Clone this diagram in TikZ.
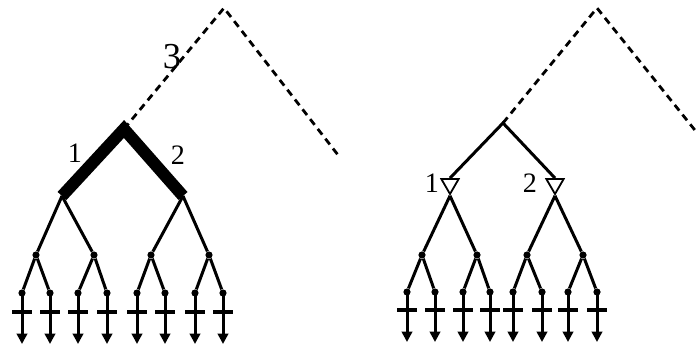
\documentclass[tikz,border=0pt]{standalone}
\usepackage{fontspec}
\setmainfont{Liberation Serif}
\usetikzlibrary{arrows.meta,shapes.geometric}
\tikzset{
  branch/.style={line width=0.75mm},
  mainbranch/.style={line width=3mm, line join=miter},
  outline/.style={line width=0.7mm, dash pattern=on 1.8mm off 1.3mm},
  dotnode/.style={circle, fill, inner sep=0pt, minimum size=1.8mm},
  stopbar/.style={fill, inner sep=0pt, minimum width=4.8mm, minimum height=1.2mm},
  valve/.style={draw, fill=white, line width=0.45mm, regular polygon, regular polygon sides=3, shape border rotate=180, inner sep=0pt, minimum size=5mm},
  leafarrow/.style={branch, -{Triangle[length=2.6mm,width=2.6mm]}},
  numlabel/.style={inner sep=0pt, font=\fontsize{20}{20}\selectfont},
  biglabel/.style={inner sep=0pt, font=\fontsize{26}{26}\selectfont},
}

\begin{document}
\begin{tikzpicture}[x=0.25mm, y=-0.25mm]
  \useasboundingbox (0,0) rectangle (696,352);

  % Left tree: dashed outer branch
  \coordinate (lroot) at (124,129);
  \coordinate (lapex) at (224,8);
  \coordinate (lend) at (338,155);
  \draw[outline] (lroot) -- (lapex) -- (lend);
  \node[biglabel] (lthree) at (172,57) {3};

  % Left tree: thick main branches
  \coordinate (lc1) at (62,196);
  \coordinate (lc2) at (183,196);
  \draw[mainbranch] (lc1) -- (lroot) -- (lc2);
  \node[numlabel] (lone) at (75,153) {1};
  \node[numlabel] (ltwo) at (178,155) {2};

  % Left tree: second level
  \foreach \x [count=\i, evaluate=\i as \p using {int((\i+1)/2)}] in {36,94,151,209} {
    \node[dotnode] (lm\i) at (\x,255) {};
    \draw[branch] (lc\p) -- (lm\i);
  }

  % Left tree: leaves with stop bars
  \foreach \x [count=\i, evaluate=\i as \p using {int((\i+1)/2)}] in {22,50,78,107,137,165,195,223} {
    \node[dotnode] (ll\i) at (\x,293) {};
    \coordinate (lt\i) at (\x,344);
    \draw[branch] (lm\p) -- (ll\i);
    \draw[leafarrow] (ll\i.center) -- (lt\i);
    \node[stopbar] (lb\i) at (\x,312) {};
  }

  % Right tree: dashed outer branch
  \coordinate (rroot) at (503,123);
  \coordinate (rapex) at (597,8);
  \coordinate (rend) at (698,134);
  \draw[outline] (rroot) -- (rapex) -- (rend);

  % Right tree: valves
  \node[valve] (rc1) at (450,184) {};
  \node[valve] (rc2) at (555,184) {};
  \draw[branch] (rc1.north) -- (rroot) -- (rc2.north);
  \node[numlabel] (rone) at (432,183) {1};
  \node[numlabel] (rtwo) at (530,183) {2};

  % Right tree: second level
  \foreach \x [count=\i, evaluate=\i as \p using {int((\i+1)/2)}] in {422,477,527,583} {
    \node[dotnode] (rm\i) at (\x,255) {};
    \draw[branch] (rc\p.south) -- (rm\i);
  }

  % Right tree: leaves with stop bars
  \foreach \x [count=\i, evaluate=\i as \p using {int((\i+1)/2)}] in {407,435,463,490,513,542,568,597} {
    \node[dotnode] (rl\i) at (\x,292) {};
    \coordinate (rt\i) at (\x,342);
    \draw[branch] (rm\p) -- (rl\i);
    \draw[leafarrow] (rl\i.center) -- (rt\i);
    \node[stopbar] (rb\i) at (\x,310) {};
  }
\end{tikzpicture}
\end{document}
